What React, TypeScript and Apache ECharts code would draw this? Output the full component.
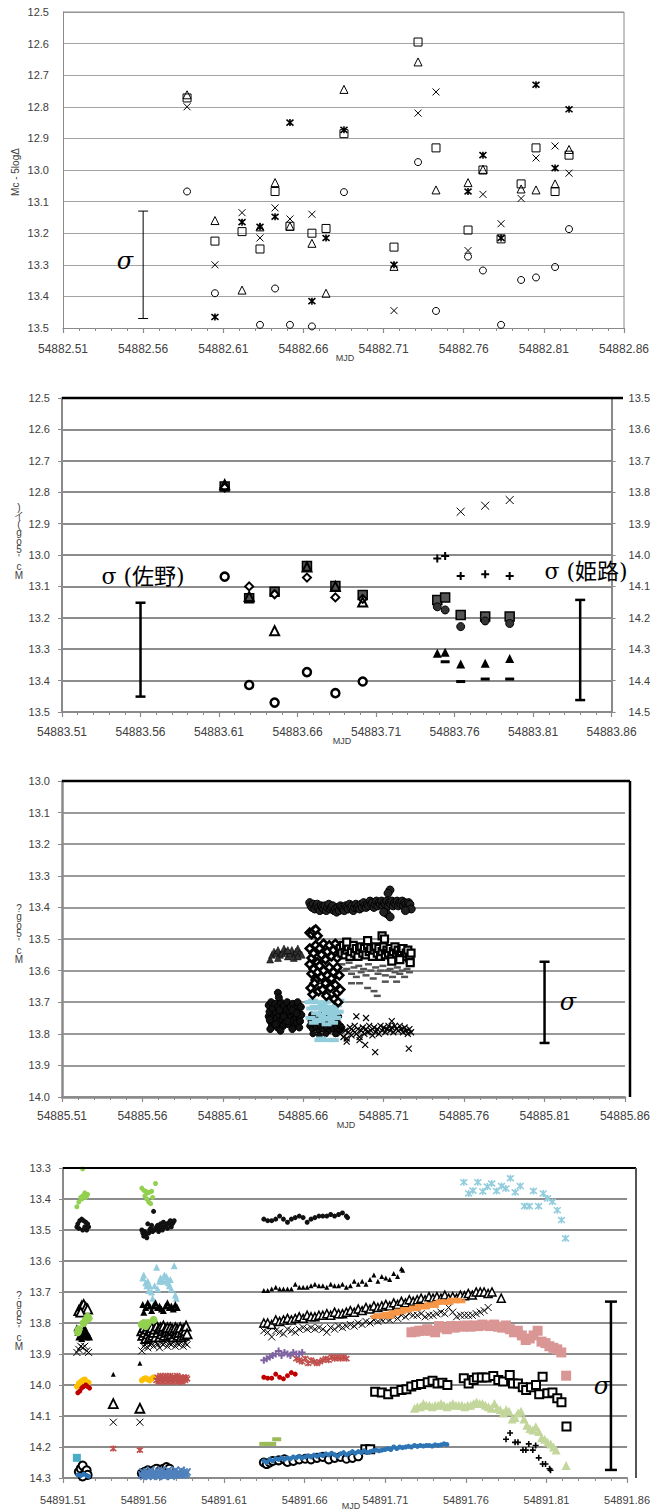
import React, { useEffect, useRef } from "react";
import * as echarts from "echarts";

const FONT = "'Liberation Sans', Arial, sans-serif";
const SERIF = "'DejaVu Serif', 'Liberation Serif', 'Noto Sans CJK JP', serif";

// MJD day bases of the four panels; x values below are the fractional part of the day
const BASE1 = 54882;
const BASE2 = 54883;
const BASE3 = 54885;
const BASE4 = 54891;

const Y1_MIN = 12.5, Y1_MAX = 13.5;
const Y2_MIN = 12.5, Y2_MAX = 13.5;
const Y2R_MIN = 13.5, Y2R_MAX = 14.5;
const Y3_MIN = 13.0, Y3_MAX = 14.0;
const Y4_MIN = 13.3, Y4_MAX = 14.3;

// ---------- Panel 1 ----------
const p1Circle = [[.5874,13.068],[.6048,13.39],[.6329,13.49],[.6423,13.375],[.6516,13.49],[.6653,13.495],[.6853,13.07],[.7315,12.975],[.7427,13.446],[.7627,13.274],[.7720,13.318],[.7833,13.49],[.7958,13.348],[.8051,13.34],[.8170,13.307],[.8257,13.187]];
const p1Square = [[.5874,12.772],[.6048,13.225],[.6217,13.195],[.6329,13.25],[.6423,13.068],[.6516,13.178],[.6653,13.20],[.6741,13.185],[.6853,12.885],[.7165,13.244],[.7315,12.595],[.7427,12.93],[.7627,13.19],[.7720,13.0],[.7833,13.218],[.7958,13.044],[.8051,12.93],[.8170,13.068],[.8257,12.953]];
const p1Triangle = [[.5874,12.762],[.6048,13.16],[.6217,13.38],[.6329,13.18],[.6423,13.04],[.6516,13.178],[.6653,13.232],[.6741,13.39],[.6853,12.745],[.7165,13.305],[.7315,12.658],[.7427,13.063],[.7627,13.04],[.7720,12.998],[.7958,13.06],[.8051,13.063],[.8170,13.044],[.8257,12.935]];
const p1Cross = [[.5874,12.80],[.6048,13.30],[.6217,13.135],[.6329,13.215],[.6423,13.12],[.6516,13.155],[.6653,13.14],[.7165,13.445],[.7315,12.82],[.7427,12.753],[.7627,13.255],[.7720,13.077],[.7833,13.17],[.7958,13.09],[.8051,12.962],[.8170,12.924],[.8257,13.01]];
const p1Star = [[.6048,13.465],[.6217,13.165],[.6329,13.18],[.6423,13.148],[.6516,12.85],[.6653,13.415],[.6741,13.215],[.6853,12.873],[.7165,13.30],[.7627,13.068],[.7720,12.953],[.7833,13.215],[.8051,12.73],[.8170,12.994],[.8257,12.808]];
const p1Err = [[.56,13.13,13.47]];

// ---------- Panel 2 ----------
const p2OpenCircle = [[.6136,13.069],[.6292,13.414],[.6454,13.47],[.666,13.373],[.6841,13.44],[.7015,13.403]];
const p2OpenDiamond = [[.6136,12.785],[.6292,13.10],[.6454,13.125],[.666,13.072],[.6841,13.135],[.7015,13.14]];
const p2FilledSquare = [[.6136,12.782],[.6292,13.138],[.6454,13.117],[.666,13.035],[.6841,13.099],[.7015,13.127],[.749,13.143],[.754,13.135],[.7639,13.191],[.7795,13.196],[.7951,13.196]];
const p2OpenTriangle = [[.6136,12.776],[.6292,13.132],[.6454,13.241],[.666,13.038],[.6841,13.10],[.7015,13.15]];
const p2Plus = [[.749,13.011],[.754,13.003],[.7639,13.067],[.7795,13.061],[.7951,13.067]];
const p2Cross = [[.7639,12.862],[.7795,12.843],[.7951,12.825]];
const p2FilledCircle = [[.749,13.165],[.754,13.175],[.7639,13.228],[.7795,13.21],[.7951,13.218]];
const p2FilledTriangle = [[.749,13.313],[.754,13.31],[.7639,13.347],[.7795,13.345],[.7951,13.33]];
const p2Dash = [[.754,13.34],[.7639,13.403],[.7795,13.395],[.7951,13.395]];
const p2Err = [[.56,13.152,13.451],[.84,13.143,13.462]];

// ---------- Panel 3 ----------
const p3Tri = [[.6394,13.565],[.6406,13.55],[.6418,13.54],[.6431,13.545],[.6443,13.535],[.6455,13.55],[.6468,13.545],[.6480,13.53],[.6492,13.54],[.6504,13.555],[.6517,13.545],[.6529,13.535],[.6541,13.55],[.6554,13.54],[.6566,13.53],[.6578,13.545],[.6590,13.55],[.6443,13.56],[.6504,13.535],[.6541,13.56],[.6566,13.555]];
const p3BlobA = [[.6385,13.71],[.6385,13.745],[.6390,13.73],[.6395,13.76],[.6400,13.70],[.6405,13.775],[.6410,13.72],[.6415,13.745],[.6420,13.765],[.6425,13.705],[.6430,13.735],[.6435,13.75],[.6440,13.78],[.6445,13.715],[.6450,13.74],[.6455,13.76],[.6460,13.70],[.6465,13.73],[.6470,13.755],[.6475,13.775],[.6480,13.71],[.6485,13.74],[.6490,13.765],[.6495,13.725],[.6500,13.70],[.6505,13.75],[.6510,13.77],[.6515,13.73],[.6520,13.715],[.6525,13.745],[.6530,13.76],[.6535,13.705],[.6540,13.735],[.6545,13.775],[.6550,13.72],[.6555,13.75],[.6560,13.765],[.6565,13.70],[.6570,13.73],[.6575,13.745],[.6580,13.76],[.6585,13.715],[.6588,13.74],[.6392,13.755],[.6428,13.77],[.6452,13.725],[.6478,13.745],[.6502,13.76],[.6532,13.725],[.6558,13.735],[.6442,13.67],[.6448,13.685],[.6458,13.79],[.6395,13.785],[.6532,13.785],[.6575,13.78]];
const p3Band = [[.6640,13.385],[.6648,13.395],[.6655,13.40],[.6663,13.39],[.6671,13.405],[.6679,13.395],[.6687,13.39],[.6695,13.40],[.6703,13.41],[.6711,13.395],[.6719,13.40],[.6727,13.405],[.6735,13.395],[.6743,13.41],[.6751,13.40],[.6759,13.39],[.6767,13.405],[.6775,13.40],[.6783,13.395],[.6791,13.41],[.6799,13.405],[.6807,13.415],[.6815,13.40],[.6823,13.41],[.6831,13.395],[.6839,13.40],[.6847,13.405],[.6855,13.41],[.6863,13.395],[.6871,13.40],[.6879,13.405],[.6887,13.39],[.6895,13.40],[.6903,13.395],[.6911,13.41],[.6919,13.40],[.6927,13.39],[.6935,13.40],[.6943,13.395],[.6951,13.405],[.6959,13.39],[.6967,13.40],[.6975,13.385],[.6983,13.395],[.6991,13.40],[.6999,13.39],[.7007,13.395],[.7015,13.38],[.7023,13.39],[.7031,13.385],[.7039,13.40],[.7047,13.39],[.7055,13.38],[.7063,13.395],[.7071,13.385],[.7079,13.39],[.7087,13.38],[.7095,13.395],[.7103,13.385],[.7111,13.39],[.7119,13.38],[.7127,13.395],[.7135,13.385],[.7143,13.39],[.7151,13.38],[.7159,13.395],[.7167,13.385],[.7175,13.39],[.7183,13.38],[.7191,13.395],[.7199,13.385],[.7207,13.39],[.7215,13.38],[.7223,13.395],[.7231,13.385],[.7239,13.39],[.7247,13.40],[.7255,13.385],[.7263,13.39],[.7271,13.405],[.7139,13.345],[.7127,13.355],[.7120,13.42],[.7140,13.43],[.7100,13.415],[.7235,13.41]];
const p3Diamond = [[.6640,13.48],[.6652,13.485],[.6664,13.475],[.6677,13.47],[.6689,13.49],[.6640,13.53],[.6652,13.56],[.6664,13.545],[.6677,13.52],[.6689,13.575],[.6701,13.53],[.6713,13.55],[.6726,13.515],[.6738,13.565],[.6750,13.54],[.6762,13.52],[.6775,13.555],[.6787,13.535],[.6799,13.515],[.6811,13.56],[.6824,13.53],[.6640,13.58],[.6652,13.61],[.6664,13.595],[.6677,13.63],[.6689,13.605],[.6701,13.585],[.6713,13.62],[.6726,13.60],[.6738,13.64],[.6750,13.615],[.6762,13.59],[.6775,13.625],[.6787,13.605],[.6799,13.645],[.6811,13.59],[.6824,13.615],[.6646,13.655],[.6658,13.675],[.6670,13.64],[.6695,13.665],[.6720,13.66],[.6744,13.68],[.6768,13.655],[.6793,13.69],[.6811,13.67],[.6817,13.70],[.6830,13.66]];
const p3Square = [[.6830,13.53],[.6840,13.545],[.6850,13.52],[.6860,13.55],[.6870,13.535],[.6880,13.525],[.6890,13.555],[.6900,13.54],[.6910,13.52],[.6920,13.545],[.6930,13.53],[.6940,13.555],[.6950,13.535],[.6960,13.525],[.6970,13.545],[.6980,13.53],[.6990,13.55],[.7000,13.52],[.7010,13.54],[.7020,13.53],[.7030,13.555],[.7040,13.535],[.7050,13.525],[.7060,13.545],[.7070,13.53],[.7080,13.555],[.7090,13.54],[.7100,13.525],[.7110,13.55],[.7120,13.535],[.7130,13.545],[.7140,13.53],[.7150,13.555],[.7160,13.54],[.7170,13.525],[.7180,13.545],[.7190,13.535],[.7200,13.55],[.7210,13.54],[.7220,13.53],[.7230,13.555],[.7240,13.545],[.7250,13.535],[.7260,13.56],[.7270,13.545],[.7090,13.49],[.7105,13.50],[.7000,13.505],[.6870,13.51],[.7265,13.575],[.7200,13.565],[.7150,13.57]];
const p3GrayDash = [[.6840,13.58],[.6855,13.60],[.6870,13.595],[.6885,13.575],[.6900,13.61],[.6915,13.59],[.6930,13.62],[.6945,13.585],[.6960,13.605],[.6975,13.595],[.6990,13.615],[.7005,13.58],[.7020,13.60],[.7035,13.625],[.7050,13.59],[.7065,13.61],[.7080,13.60],[.7095,13.585],[.7110,13.615],[.7125,13.60],[.7140,13.595],[.7155,13.62],[.7170,13.605],[.7185,13.59],[.7200,13.61],[.7215,13.60],[.7230,13.62],[.7245,13.595],[.7260,13.605],[.6900,13.64],[.6950,13.64],[.7000,13.655],[.7040,13.665],[.7060,13.68],[.7110,13.635],[.7180,13.635]];
const p3BlueDash = [[.6640,13.70],[.6650,13.72],[.6660,13.695],[.6670,13.715],[.6680,13.735],[.6690,13.70],[.6700,13.72],[.6710,13.74],[.6720,13.71],[.6730,13.725],[.6740,13.70],[.6750,13.735],[.6760,13.715],[.6770,13.73],[.6780,13.745],[.6790,13.72],[.6800,13.735],[.6810,13.71],[.6820,13.73],[.6645,13.75],[.6665,13.765],[.6685,13.755],[.6705,13.76],[.6725,13.75],[.6745,13.77],[.6765,13.755],[.6785,13.765],[.6805,13.75],[.6700,13.82],[.6710,13.815],[.6760,13.82],[.6790,13.82],[.6825,13.695]];
const p3BlobB = [[.6640,13.775],[.6648,13.76],[.6656,13.785],[.6664,13.77],[.6672,13.755],[.6680,13.78],[.6688,13.765],[.6696,13.79],[.6704,13.775],[.6712,13.76],[.6720,13.785],[.6728,13.77],[.6736,13.755],[.6744,13.78],[.6752,13.765],[.6760,13.79],[.6768,13.775],[.6776,13.76],[.6784,13.785],[.6792,13.77],[.6800,13.755],[.6808,13.78],[.6816,13.765],[.6824,13.79],[.6832,13.775],[.6840,13.78],[.6652,13.74],[.6676,13.745],[.6700,13.74],[.6724,13.745],[.6748,13.74],[.6772,13.745],[.6796,13.74],[.6820,13.745],[.6660,13.80],[.6700,13.805],[.6740,13.80],[.6800,13.80]];
const p3Cross = [[.6830,13.80],[.6840,13.785],[.6850,13.81],[.6860,13.79],[.6870,13.815],[.6880,13.795],[.6890,13.78],[.6900,13.805],[.6910,13.79],[.6920,13.775],[.6930,13.80],[.6940,13.785],[.6950,13.81],[.6960,13.79],[.6970,13.78],[.6980,13.80],[.6990,13.785],[.7000,13.795],[.7010,13.775],[.7020,13.79],[.7030,13.805],[.7040,13.78],[.7050,13.795],[.7060,13.785],[.7070,13.80],[.7080,13.775],[.7090,13.79],[.7100,13.78],[.7110,13.795],[.7120,13.785],[.7130,13.775],[.7140,13.79],[.7150,13.78],[.7160,13.795],[.7170,13.775],[.7180,13.785],[.7190,13.79],[.7200,13.775],[.7210,13.785],[.7220,13.795],[.7230,13.78],[.7240,13.79],[.7250,13.80],[.7260,13.785],[.7270,13.795],[.6950,13.82],[.6870,13.825],[.7047,13.858],[.7256,13.847],[.6985,13.835],[.6990,13.75],[.7150,13.76],[.6930,13.745]];
const p3Err = [[.81,13.572,13.829]];

// ---------- Panel 4 ----------
const p4GreenDots = [[.5222,13.303],[.5186,13.425],[.5198,13.41],[.5210,13.395],[.5222,13.39],[.5235,13.38],[.5247,13.39],[.5253,13.385],[.5216,13.40],[.5241,13.395],[.5589,13.365],[.5601,13.372],[.5613,13.375],[.5626,13.38],[.5638,13.378],[.5650,13.375],[.5674,13.35],[.5608,13.39],[.5620,13.40],[.5632,13.41],[.5644,13.415],[.5656,13.395]];
const p4BlackDots = [[.5186,13.49],[.5192,13.48],[.5204,13.47],[.5216,13.465],[.5228,13.47],[.5241,13.475],[.5253,13.48],[.5259,13.49],[.5198,13.495],[.5222,13.50],[.5247,13.50],[.5235,13.49],[.5589,13.50],[.5595,13.51],[.5601,13.52],[.5607,13.505],[.5613,13.515],[.5620,13.525],[.5626,13.48],[.5632,13.51],[.5638,13.50],[.5644,13.495],[.5650,13.485],[.5656,13.505],[.5662,13.44],[.5668,13.50],[.5674,13.495],[.5681,13.49],[.5687,13.485],[.5693,13.505],[.5699,13.495],[.5705,13.48],[.5711,13.49],[.5717,13.50],[.5723,13.475],[.5729,13.49],[.5736,13.485],[.5742,13.48],[.5748,13.495],[.5754,13.48],[.5760,13.475],[.5766,13.47],[.5772,13.49],[.5778,13.48],[.5784,13.475],[.5790,13.47],[.6346,13.465],[.6370,13.47],[.6395,13.47],[.6420,13.465],[.6444,13.455],[.6468,13.465],[.6493,13.475],[.6517,13.465],[.6541,13.46],[.6566,13.455],[.6590,13.46],[.6615,13.475],[.6639,13.465],[.6663,13.46],[.6688,13.455],[.6712,13.455],[.6737,13.455],[.6761,13.45],[.6785,13.455],[.6810,13.45],[.6834,13.445],[.6858,13.455],[.6866,13.46]];
const p4LightBlueTri = [[.5595,13.655],[.5601,13.645],[.5613,13.67],[.5620,13.68],[.5626,13.665],[.5632,13.695],[.5638,13.68],[.5650,13.70],[.5656,13.72],[.5662,13.74],[.5668,13.68],[.5681,13.62],[.5687,13.69],[.5699,13.665],[.5705,13.655],[.5711,13.66],[.5723,13.665],[.5729,13.645],[.5742,13.65],[.5748,13.66],[.5754,13.67],[.5760,13.68],[.5766,13.66],[.5772,13.69],[.5790,13.615],[.5797,13.71],[.5803,13.72]];
const p4FilledTri = [[.5595,13.74],[.5601,13.765],[.5613,13.75],[.5626,13.735],[.5638,13.745],[.5650,13.76],[.5662,13.745],[.5674,13.735],[.5687,13.75],[.5699,13.745],[.5711,13.755],[.5723,13.76],[.5736,13.745],[.5748,13.735],[.5760,13.75],[.5772,13.745],[.5784,13.755],[.5797,13.74],[.5809,13.75],[.5186,13.815],[.5192,13.83],[.5198,13.845],[.5204,13.82],[.5210,13.835],[.5216,13.85],[.5222,13.825],[.5228,13.84],[.5235,13.815],[.5241,13.83],[.5247,13.845],[.5253,13.835],[.5259,13.84],[.5265,13.845]];
const p4SmallTri = [[.5412,13.965],[.5577,13.93],[.6346,13.695],[.6370,13.695],[.6395,13.69],[.6420,13.685],[.6444,13.69],[.6468,13.69],[.6493,13.69],[.6517,13.69],[.6541,13.675],[.6566,13.685],[.6590,13.685],[.6615,13.685],[.6639,13.68],[.6663,13.675],[.6688,13.68],[.6712,13.68],[.6737,13.685],[.6761,13.675],[.6785,13.68],[.6810,13.68],[.6834,13.675],[.6858,13.685],[.6883,13.68],[.6907,13.665],[.6932,13.675],[.6956,13.665],[.6980,13.675],[.7005,13.66],[.7029,13.645],[.7054,13.665],[.7078,13.65],[.7103,13.655],[.7127,13.66],[.7152,13.64],[.7176,13.65],[.7200,13.625],[.7208,13.63]];
const p4OpenTriA = [[.5198,13.76],[.5216,13.745],[.5228,13.74],[.5241,13.75],[.5253,13.755],[.5210,13.765],[.5412,14.06],[.5577,14.075],[.5589,13.825],[.5595,13.84],[.5601,13.815],[.5607,13.83],[.5613,13.85],[.5620,13.82],[.5626,13.835],[.5632,13.81],[.5638,13.845],[.5644,13.825],[.5650,13.815],[.5656,13.84],[.5662,13.83],[.5668,13.82],[.5674,13.845],[.5681,13.81],[.5687,13.83],[.5693,13.82],[.5699,13.845],[.5705,13.815],[.5711,13.835],[.5717,13.825],[.5723,13.81],[.5729,13.84],[.5736,13.82],[.5742,13.83],[.5748,13.815],[.5754,13.84],[.5760,13.825],[.5766,13.815],[.5772,13.835],[.5778,13.82],[.5784,13.845],[.5790,13.825],[.5797,13.815],[.5803,13.835],[.5809,13.82],[.5815,13.84],[.5821,13.83],[.5827,13.815],[.5833,13.845],[.5839,13.83],[.5846,13.82],[.5852,13.84],[.5858,13.825],[.5864,13.81],[.5870,13.835]];
const p4OpenTriD = [[.6346,13.80],[.6370,13.80],[.6395,13.805],[.6420,13.79],[.6444,13.795],[.6468,13.79],[.6493,13.785],[.6517,13.79],[.6541,13.785],[.6566,13.78],[.6590,13.785],[.6615,13.775],[.6639,13.78],[.6663,13.78],[.6688,13.775],[.6712,13.775],[.6737,13.77],[.6761,13.775],[.6785,13.765],[.6810,13.77],[.6834,13.77],[.6858,13.765],[.6883,13.76],[.6907,13.765],[.6932,13.755],[.6956,13.76],[.6980,13.75],[.7005,13.755],[.7029,13.745],[.7054,13.75],[.7078,13.745],[.7103,13.74],[.7127,13.745],[.7152,13.735],[.7176,13.74],[.7200,13.73],[.7225,13.735],[.7249,13.725],[.7273,13.73],[.7298,13.725],[.7322,13.72],[.7347,13.725],[.7371,13.715],[.7396,13.72],[.7420,13.715],[.7445,13.72],[.7469,13.71],[.7493,13.72],[.7518,13.715],[.7542,13.72],[.7566,13.71],[.7591,13.712],[.7615,13.705],[.7640,13.71],[.7664,13.70],[.7689,13.70],[.7713,13.70],[.7738,13.705],[.7762,13.70],[.7819,13.72]];
const p4GreenBlob = [[.5228,13.80],[.5241,13.79],[.5253,13.78],[.5259,13.785],[.5198,13.82],[.5192,13.83],[.5589,13.805],[.5601,13.80],[.5613,13.81],[.5626,13.80],[.5662,13.79]];
const p4Cross = [[.5186,13.895],[.5198,13.885],[.5210,13.875],[.5222,13.88],[.5235,13.875],[.5247,13.89],[.5259,13.895],[.5412,14.12],[.5577,14.12],[.5589,13.89],[.5601,13.875],[.5613,13.865],[.5626,13.88],[.5638,13.87],[.5650,13.865],[.5662,13.875],[.5674,13.86],[.5687,13.87],[.5699,13.88],[.5711,13.865],[.5723,13.87],[.5736,13.86],[.5748,13.875],[.5760,13.865],[.5772,13.87],[.5784,13.86],[.5797,13.875],[.5809,13.865],[.5821,13.87],[.5833,13.86],[.5846,13.875],[.5858,13.865],[.5870,13.87],[.6346,13.825],[.6370,13.83],[.6395,13.845],[.6420,13.825],[.6444,13.83],[.6468,13.835],[.6493,13.82],[.6517,13.825],[.6541,13.83],[.6566,13.82],[.6590,13.815],[.6615,13.82],[.6639,13.815],[.6663,13.82],[.6688,13.815],[.6712,13.82],[.6737,13.83],[.6761,13.815],[.6785,13.82],[.6810,13.81],[.6834,13.815],[.6858,13.81],[.6883,13.805],[.6907,13.81],[.6932,13.80],[.6956,13.805],[.6980,13.795],[.7005,13.80],[.7029,13.79],[.7054,13.795],[.7078,13.79],[.7103,13.785],[.7127,13.79],[.7152,13.78],[.7176,13.785],[.7200,13.775],[.7225,13.78],[.7249,13.77],[.7273,13.775],[.7298,13.775],[.7322,13.77],[.7347,13.78],[.7371,13.775],[.7396,13.775],[.7420,13.77],[.7445,13.765],[.7469,13.77],[.7493,13.75],[.7518,13.765],[.7542,13.78],[.7566,13.775],[.7591,13.775],[.7615,13.775],[.7640,13.775],[.7664,13.77],[.7689,13.765],[.7713,13.76],[.7738,13.75]];
const p4OrangeDots = [[.5186,14.005],[.5198,13.995],[.5210,13.99],[.5222,13.985],[.5235,13.982],[.5247,13.99],[.5259,13.992],[.5589,13.985],[.5601,13.98],[.5613,13.978],[.5626,13.982],[.5638,13.985],[.5650,13.98],[.5662,13.975]];
const p4OrangeDash = [[.7037,13.78],[.7055,13.775],[.7074,13.78],[.7092,13.775],[.7110,13.77],[.7129,13.78],[.7147,13.765],[.7165,13.77],[.7184,13.76],[.7202,13.765],[.7220,13.755],[.7239,13.76],[.7257,13.755],[.7275,13.75],[.7294,13.755],[.7312,13.745],[.7330,13.745],[.7349,13.75],[.7367,13.74],[.7385,13.74],[.7404,13.745],[.7422,13.735],[.7440,13.73],[.7459,13.735],[.7477,13.73],[.7495,13.735],[.7514,13.725],[.7532,13.73],[.7550,13.725],[.7569,13.73]];
const p4RedDots = [[.5192,14.025],[.5204,14.02],[.5216,14.01],[.5228,14.005],[.5241,14.0],[.5253,14.005],[.5265,14.01],[.6346,13.975],[.6370,13.978],[.6395,13.978],[.6420,13.965],[.6444,13.975],[.6468,13.98],[.6493,13.97],[.6517,13.96],[.6541,13.965]];
const p4RedStar = [[.5412,14.205],[.5577,14.21],[.5680,13.985],[.5687,13.975],[.5693,13.99],[.5699,13.98],[.5705,13.97],[.5711,13.985],[.5717,13.975],[.5723,13.99],[.5729,13.98],[.5736,13.97],[.5742,13.985],[.5748,13.975],[.5754,13.99],[.5760,13.98],[.5766,13.97],[.5772,13.985],[.5778,13.975],[.5784,13.99],[.5790,13.98],[.5797,13.975],[.5803,13.985],[.5809,13.97],[.5815,13.99],[.5821,13.98],[.5827,13.975],[.5833,13.985],[.5839,13.99],[.5846,13.975],[.5852,13.98],[.5858,13.985],[.5864,13.975],[.5870,13.98],[.6548,13.915],[.6566,13.92],[.6584,13.925],[.6603,13.915],[.6621,13.93],[.6639,13.92],[.6658,13.925],[.6676,13.93],[.6694,13.925],[.6712,13.92],[.6731,13.915],[.6749,13.92],[.6767,13.91],[.6786,13.915],[.6804,13.91],[.6822,13.915],[.6841,13.91],[.6859,13.915]];
const p4PurplePlus = [[.6346,13.92],[.6364,13.915],[.6383,13.91],[.6401,13.905],[.6420,13.90],[.6438,13.89],[.6456,13.905],[.6474,13.895],[.6493,13.90],[.6511,13.905],[.6529,13.895],[.6548,13.90],[.6566,13.90],[.6584,13.895]];
const p4PinkSq = [[.7262,13.83],[.7287,13.828],[.7311,13.825],[.7336,13.825],[.7360,13.82],[.7384,13.825],[.7409,13.83],[.7433,13.81],[.7458,13.815],[.7482,13.82],[.7507,13.81],[.7531,13.815],[.7556,13.81],[.7580,13.812],[.7605,13.808],[.7629,13.812],[.7654,13.808],[.7678,13.81],[.7702,13.805],[.7727,13.808],[.7751,13.81],[.7776,13.805],[.7800,13.812],[.7825,13.815],[.7849,13.808],[.7873,13.82],[.7898,13.83],[.7922,13.825],[.7947,13.84],[.7971,13.855],[.7996,13.85],[.8020,13.84],[.8045,13.825],[.8069,13.86],[.8094,13.865],[.8118,13.875],[.8143,13.88],[.8167,13.885],[.8192,13.895],[.8222,13.97]];
const p4OpenSq = [[.6976,14.207],[.7006,14.207],[.7037,14.022],[.7078,14.024],[.7118,14.03],[.7159,14.022],[.72,14.016],[.7231,14.014],[.7261,14.005],[.7292,14.0],[.7322,13.997],[.7363,13.991],[.7393,13.986],[.7424,13.995],[.7454,13.993],[.7485,14.0],[.7587,13.978],[.7617,13.995],[.7648,13.984],[.7668,13.976],[.7699,13.976],[.7729,13.976],[.777,13.971],[.7801,13.984],[.7831,13.989],[.7872,13.968],[.7892,13.995],[.7923,13.995],[.7953,14.007],[.7974,14.016],[.8004,14.007],[.8035,14.0],[.8055,14.03],[.8076,13.973],[.8106,14.027],[.8137,14.024],[.8167,14.043],[.8193,14.056],[.8224,14.134]];
const p4OliveTri = [[.7281,14.075],[.7299,14.07],[.7318,14.07],[.7336,14.06],[.7354,14.065],[.7373,14.065],[.7391,14.07],[.7409,14.065],[.7428,14.065],[.7446,14.06],[.7464,14.065],[.7483,14.07],[.7501,14.065],[.7519,14.06],[.7538,14.065],[.7556,14.065],[.7575,14.065],[.7593,14.07],[.7611,14.065],[.7630,14.065],[.7648,14.06],[.7666,14.055],[.7685,14.06],[.7703,14.06],[.7721,14.065],[.7740,14.07],[.7758,14.075],[.7777,14.06],[.7795,14.075],[.7813,14.08],[.7832,14.09],[.7850,14.08],[.7868,14.085],[.7887,14.11],[.7905,14.105],[.7923,14.09],[.7942,14.085],[.7960,14.11],[.7978,14.13],[.7997,14.14],[.8015,14.145],[.8034,14.135],[.8052,14.15],[.8070,14.17],[.8089,14.175],[.8107,14.185],[.8126,14.19],[.8144,14.20],[.8160,14.21],[.8222,14.26]];
const p4BlackPlus = [[.7849,14.175],[.7874,14.155],[.7905,14.185],[.7923,14.185],[.7954,14.21],[.7972,14.21],[.7990,14.19],[.8015,14.21],[.8033,14.195],[.8052,14.235],[.8076,14.255],[.8094,14.255],[.8119,14.27],[.8125,14.275]];
const p4LightBlueStar = [[.7587,13.346],[.7617,13.382],[.7644,13.373],[.7674,13.346],[.7705,13.376],[.7733,13.36],[.776,13.35],[.779,13.374],[.7821,13.358],[.7848,13.366],[.7876,13.333],[.7906,13.378],[.7937,13.358],[.7964,13.423],[.7994,13.423],[.8019,13.374],[.8051,13.423],[.808,13.382],[.8106,13.398],[.8137,13.409],[.8167,13.436],[.8193,13.468],[.8218,13.527]];
const p4Teal = [[.5186,14.235]];
const p4GreenDash = [[.6346,14.19],[.6370,14.19],[.6395,14.19],[.6426,14.175]];
const p4BlueDots = [[.5192,14.29],[.5210,14.292],[.5228,14.288],[.5247,14.292],[.5259,14.295],[.6346,14.245],[.6364,14.25],[.6383,14.24],[.6401,14.245],[.6420,14.238],[.6438,14.24],[.6456,14.235],[.6474,14.24],[.6493,14.235],[.6511,14.238],[.6529,14.232],[.6548,14.235],[.6566,14.23],[.6584,14.235],[.6603,14.232],[.6621,14.228],[.6639,14.232],[.6658,14.226],[.6676,14.23],[.6694,14.225],[.6712,14.228],[.6731,14.222],[.6749,14.225],[.6767,14.22],[.6786,14.225],[.6804,14.23],[.6822,14.222],[.6841,14.218],[.6859,14.225],[.6877,14.22],[.6896,14.215],[.6914,14.22],[.6932,14.215],[.6951,14.218],[.6969,14.212],[.6987,14.218],[.7006,14.215],[.7024,14.212],[.7042,14.21],[.7061,14.212],[.7079,14.21],[.7097,14.208],[.7116,14.205],[.7134,14.208],[.7152,14.2],[.7171,14.205],[.7189,14.2],[.7207,14.202],[.7226,14.2],[.7244,14.198],[.7262,14.2],[.7281,14.195],[.7299,14.198],[.7317,14.195],[.7336,14.197],[.7354,14.195],[.7372,14.195],[.7391,14.197],[.7409,14.193],[.7427,14.195],[.7446,14.193],[.7464,14.19],[.7482,14.192]];
const p4BlueCross = [[.5589,14.29],[.5595,14.28],[.5601,14.295],[.5607,14.285],[.5613,14.29],[.5620,14.28],[.5626,14.295],[.5632,14.285],[.5638,14.29],[.5644,14.275],[.5650,14.29],[.5656,14.285],[.5662,14.295],[.5668,14.28],[.5674,14.29],[.5681,14.285],[.5687,14.295],[.5693,14.28],[.5699,14.29],[.5705,14.285],[.5711,14.275],[.5717,14.29],[.5723,14.285],[.5729,14.295],[.5736,14.28],[.5742,14.29],[.5748,14.285],[.5754,14.275],[.5760,14.29],[.5766,14.285],[.5772,14.295],[.5778,14.28],[.5784,14.29],[.5790,14.285],[.5797,14.275],[.5803,14.29],[.5809,14.285],[.5815,14.28],[.5821,14.29],[.5827,14.285],[.5833,14.275],[.5839,14.29],[.5846,14.285],[.5852,14.28],[.5858,14.29],[.5864,14.285],[.5870,14.28]];
const p4OpenCirc = [[.5198,14.28],[.5210,14.27],[.5222,14.26],[.5235,14.285],[.5247,14.275],[.5253,14.29],[.5222,14.295],[.5589,14.285],[.5607,14.28],[.5626,14.275],[.5644,14.28],[.5662,14.275],[.5681,14.27],[.5705,14.275],[.5723,14.27],[.5742,14.265],[.5760,14.27],[.6346,14.25],[.6364,14.255],[.6383,14.25],[.6401,14.245],[.6438,14.243],[.6474,14.24],[.6493,14.248],[.6529,14.245],[.6566,14.24],[.6603,14.238],[.6639,14.24],[.6676,14.235],[.6712,14.232],[.6749,14.24],[.6786,14.235],[.6822,14.232],[.6859,14.238],[.6896,14.235],[.6932,14.23]];
const p4Err = [[.85,13.731,14.274]];

// ---------- layout ----------
const G = [
  { left: 63, top: 12, width: 561, height: 316 },
  { left: 62, top: 398, width: 561, height: 314 },
  { left: 62, top: 781, width: 568, height: 316 },
  { left: 63, top: 1168, width: 573, height: 310 },
];

const X_PATH = "path://M0,0L10,10M10,0L0,10";
const STAR_PATH = "path://M0,0L10,10M10,0L0,10M5,-1L5,11";
const PLUS_PATH = "path://M5,0L5,10M0,5L10,5";

const toAx = (pts: number[][]) => pts.map((p) => [p[0] - 0.51, ...p.slice(1)]);

function sc(idx: number, data: number[][], symbol: string, size: any, style: any) {
  return {
    type: "scatter",
    xAxisIndex: idx,
    yAxisIndex: idx,
    data: toAx(data),
    symbol,
    symbolSize: size,
    itemStyle: { opacity: 1, ...style },
    emphasis: { disabled: true },
    silent: true,
  };
}

const open = (w: number) => ({ color: "transparent", borderColor: "#000", borderWidth: w });
const fill = (c: string, bc?: string, bw?: number) => ({ color: c, borderColor: bc || c, borderWidth: bw || 0 });
const stroke = (c: string, w: number) => ({ color: "transparent", borderColor: c, borderWidth: w });

function errSeries(idx: number, data: number[][], lw: number, cap: number) {
  return {
    type: "custom",
    xAxisIndex: idx,
    yAxisIndex: idx,
    data: toAx(data),
    encode: { x: 0, y: [1, 2] },
    silent: true,
    renderItem: (params: any, api: any) => {
      const x = api.value(0);
      const a = api.coord([x, api.value(1)]);
      const b = api.coord([x, api.value(2)]);
      const st = { stroke: "#000", lineWidth: lw };
      return {
        type: "group",
        children: [
          { type: "line", shape: { x1: a[0], y1: a[1], x2: b[0], y2: b[1] }, style: st },
          { type: "line", shape: { x1: a[0] - cap, y1: a[1], x2: a[0] + cap, y2: a[1] }, style: st },
          { type: "line", shape: { x1: b[0] - cap, y1: b[1], x2: b[0] + cap, y2: b[1] }, style: st },
        ],
      };
    },
  };
}

function xAx(idx: number, base: number, fs: number, lw: number, margin: number) {
  return {
    type: "value",
    gridIndex: idx,
    min: 0,
    max: 0.35,
    interval: 0.05,
    axisLine: { show: true, onZero: false, lineStyle: { color: "#8a8a8a", width: lw } },
    axisTick: { show: true, length: 5, lineStyle: { color: "#8a8a8a", width: 1.2 } },
    minorTick: { show: true, splitNumber: 5, length: 3, lineStyle: { color: "#8a8a8a", width: 1 } },
    splitLine: { show: false },
    axisLabel: {
      formatter: (v: number) => (base + 0.51 + v).toFixed(2),
      fontSize: fs,
      color: "#404040",
      fontFamily: FONT,
      margin,
      showMinLabel: true,
      showMaxLabel: true,
    },
  };
}

function yAx(idx: number, min: number, max: number, lw: number, gridColor: string, gridW: number, tick: boolean, margin: number, pos = "left", showSplit = true) {
  return {
    type: "value",
    gridIndex: idx,
    min,
    max,
    interval: 0.1,
    inverse: true,
    position: pos,
    axisLine: { show: true, onZero: false, lineStyle: { color: "#8a8a8a", width: lw } },
    axisTick: { show: tick, length: 4, lineStyle: { color: "#8a8a8a", width: 1 } },
    splitLine: { show: showSplit, lineStyle: { color: gridColor, width: gridW } },
    axisLabel: { formatter: (v: number) => v.toFixed(1), fontSize: 11, color: "#404040", fontFamily: FONT, margin },
  };
}

function gline(x1: number, y1: number, x2: number, y2: number, color: string, w: number) {
  return { type: "line", z: 50, silent: true, shape: { x1, y1, x2, y2 }, style: { stroke: color, lineWidth: w } };
}
function gtext(x: number, y: number, text: string, fontSize: number, family: string, extra: any = {}) {
  return {
    type: "text", z: 50, silent: true, x, y,
    style: { text, fontSize, fontFamily: family, fill: "#000", textAlign: "center", textVerticalAlign: "middle", ...extra },
  };
}

export default function App() {
  const ref = useRef<HTMLDivElement>(null);
  useEffect(() => {
    if (!ref.current) return;
    const chart = echarts.init(ref.current, undefined, { renderer: "svg" });
    const grids = G.map((g) => ({ ...g, containLabel: false, show: false }));
    const xAxis = [
      xAx(0, BASE1, 12, 1, 15),
      xAx(1, BASE2, 12, 2, 14),
      xAx(2, BASE3, 12, 2.5, 13),
      xAx(3, BASE4, 11, 2, 16),
      { ...xAx(1, BASE2, 12, 2, 14), show: false },
    ];
    const yAxis = [
      yAx(0, Y1_MIN, Y1_MAX, 1, "#a3a3a3", 1, false, 14),
      yAx(1, Y2_MIN, Y2_MAX, 2, "#8c8c8c", 2, true, 12),
      yAx(2, Y3_MIN, Y3_MAX, 2.5, "#9a9a9a", 2, true, 12),
      yAx(3, Y4_MIN, Y4_MAX, 2, "#8c8c8c", 2, true, 12),
      yAx(1, Y2R_MIN, Y2R_MAX, 2, "#8c8c8c", 2, true, 17, "right", false),
    ];

    const series: any[] = [
      // panel 1
      sc(0, p1Circle, "circle", 7, open(1)),
      sc(0, p1Square, "rect", 8, open(1)),
      sc(0, p1Triangle, "triangle", 8, open(1)),
      sc(0, p1Cross, X_PATH, 7, stroke("#000", 1)),
      sc(0, p1Star, STAR_PATH, 7, stroke("#000", 1.6)),
      errSeries(0, p1Err, 1, 5),
      // panel 2
      sc(1, p2OpenCircle, "circle", 8, { color: "#fff", borderColor: "#000", borderWidth: 2.5 }),
      sc(1, p2FilledSquare, "rect", 9, fill("#555", "#000", 1.5)),
      sc(1, p2OpenDiamond, "diamond", 8, { color: "#fff", borderColor: "#000", borderWidth: 2 }),
      sc(1, p2OpenTriangle, "triangle", 9, open(2)),
      sc(1, p2Plus, PLUS_PATH, 8, stroke("#000", 2)),
      sc(1, p2Cross, X_PATH, 8, stroke("#000", 1)),
      sc(1, p2FilledCircle, "circle", 8, fill("#333", "#000", 1)),
      sc(1, p2FilledTriangle, "triangle", 9, fill("#000")),
      sc(1, p2Dash, "rect", [9, 3], fill("#000")),
      errSeries(1, p2Err, 2.5, 5),
      // panel 3
      sc(2, p3Tri, "triangle", 7, fill("#333", "#000", 0.5)),
      sc(2, p3BlobA, "circle", 7, fill("#111", "#000", 1)),
      sc(2, p3Band, "circle", 8, fill("#222", "#000", 1)),
      sc(2, p3GrayDash, "rect", [7, 2.5], fill("#555")),
      sc(2, p3BlobB, "circle", 6, fill("#111", "#000", 1)),
      sc(2, p3BlueDash, "rect", [10, 4], fill("#92CDDC")),
      sc(2, p3Diamond, "diamond", 8, { color: "#fff", borderColor: "#000", borderWidth: 2.6 }),
      sc(2, p3Square, "rect", 7, { color: "#fff", borderColor: "#000", borderWidth: 2.2 }),
      sc(2, p3Cross, X_PATH, 6, stroke("#000", 1.2)),
      errSeries(2, p3Err, 2.5, 5),
      // panel 4
      sc(3, p4GreenDots, "circle", 5, fill("#92D050")),
      sc(3, p4BlackDots, "circle", 5, fill("#111")),
      sc(3, p4LightBlueTri, "triangle", 7, fill("#93CDDD")),
      sc(3, p4SmallTri, "triangle", 5, fill("#000")),
      sc(3, p4Cross, X_PATH, 7, stroke("#000", 1)),
      sc(3, p4FilledTri, "triangle", 7, fill("#000")),
      sc(3, p4OpenTriA, "triangle", 9, { color: "#fff", borderColor: "#000", borderWidth: 1.8 }),
      sc(3, p4OpenTriD, "triangle", 8, { color: "#fff", borderColor: "#000", borderWidth: 1.5 }),
      sc(3, p4GreenBlob, "circle", 8, fill("#92D050")),
      sc(3, p4OrangeDots, "circle", 6, fill("#FFC000")),
      sc(3, p4OrangeDash, "rect", [9, 4], fill("#F79646")),
      sc(3, p4RedDots, "circle", 5, fill("#C00000")),
      sc(3, p4RedStar, STAR_PATH, 6, stroke("#C0504D", 1.6)),
      sc(3, p4PurplePlus, PLUS_PATH, 7, stroke("#8064A2", 2)),
      sc(3, p4PinkSq, "rect", 10, fill("#D99694")),
      sc(3, p4OpenSq, "rect", 8, { color: "#fff", borderColor: "#000", borderWidth: 2 }),
      sc(3, p4OliveTri, "triangle", 9, fill("#C3D69B")),
      sc(3, p4BlackPlus, PLUS_PATH, 6, stroke("#000", 1.6)),
      sc(3, p4LightBlueStar, STAR_PATH, 7, stroke("#93CDDD", 1.6)),
      sc(3, p4Teal, "rect", 8, fill("#4BACC6")),
      sc(3, p4GreenDash, "rect", [9, 4], fill("#9BBB59")),
      sc(3, p4OpenCirc, "circle", 8, { color: "#fff", borderColor: "#000", borderWidth: 2 }),
      sc(3, p4BlueDots, "circle", 5, fill("#2E75B6")),
      sc(3, p4BlueCross, X_PATH, 7, stroke("#4F81BD", 1.8)),
      errSeries(3, p4Err, 2.5, 6),
    ];

    const g1 = G[0], g2 = G[1], g3 = G[2], g4 = G[3];
    const graphic: any[] = [
      gline(g1.left, g1.top, g1.left + g1.width, g1.top, "#8a8a8a", 1),
      gline(g1.left + g1.width, g1.top, g1.left + g1.width, g1.top + g1.height, "#8a8a8a", 1),
      gline(g2.left, g2.top, g2.left + g2.width, g2.top, "#000", 2.5),
      gline(g3.left, g3.top, g3.left + g3.width, g3.top, "#000", 2.5),
      gline(g3.left + g3.width, g3.top, g3.left + g3.width, g3.top + g3.height, "#000", 2.5),
      gline(g4.left, g4.top, g4.left + g4.width, g4.top, "#000", 2),
      gline(g4.left + g4.width, g4.top, g4.left + g4.width, g4.top + g4.height, "#555", 2),
      // axis titles
      { ...gtext(15, 172, "Mc - 5logΔ", 10, FONT, { fill: "#404040" }), rotation: Math.PI / 2 },
      gtext(19, 503, ")\nイ\n(\ng\no\n5\n'\nc\nM", 10, FONT, { fill: "#404040", textVerticalAlign: "top", lineHeight: 8.5 }),
      gtext(19, 904, "?\ng\no\n5\n'\nc\nM", 10, FONT, { fill: "#404040", textVerticalAlign: "top", lineHeight: 8.5 }),
      gtext(19, 1291, "?\ng\no\n5\n'\nc\nM", 10, FONT, { fill: "#404040", textVerticalAlign: "top", lineHeight: 8.5 }),
      gtext(345, 358, "MJD", 9, FONT, { fill: "#404040" }),
      gtext(342, 741, "MJD", 9, FONT, { fill: "#404040" }),
      gtext(346, 1125, "MJD", 9, FONT, { fill: "#404040" }),
      gtext(351, 1506, "MJD", 9, FONT, { fill: "#404040" }),
      // sigma annotations
      gtext(125, 261, "σ", 24, SERIF, { fontStyle: "italic" }),
      gtext(143, 576, "σ (佐野)", 22, SERIF),
      gtext(586, 571, "σ (姫路)", 22, SERIF),
      gtext(568, 1002, "σ", 24, SERIF, { fontStyle: "italic" }),
      gtext(602, 1386, "σ", 24, SERIF, { fontStyle: "italic" }),
    ];

    chart.setOption({
      animation: false,
      backgroundColor: "#fff",
      grid: grids,
      xAxis,
      yAxis,
      series,
      graphic,
    });
    return () => chart.dispose();
  }, []);
  return <div ref={ref} style={{ position: "absolute", left: 0, top: 0, width: 653, height: 1510 }} />;
}
